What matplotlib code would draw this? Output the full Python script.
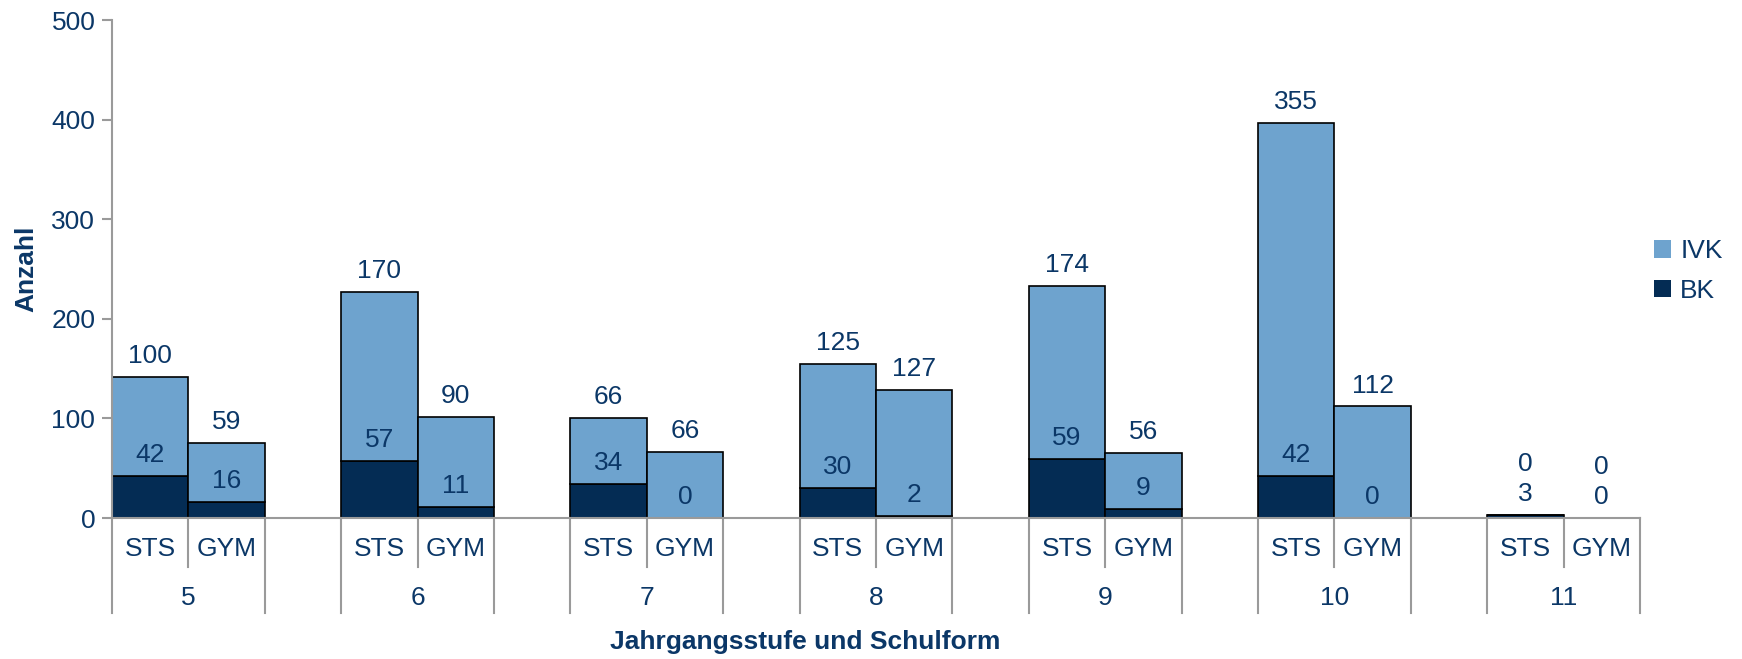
import matplotlib.pyplot as plt
from matplotlib.patches import Patch
import matplotlib.transforms as mtransforms

plt.rcParams['font.family'] = ['Liberation Sans', 'DejaVu Sans']

grades = ['5', '6', '7', '8', '9', '10', '11']
forms = ['STS', 'GYM']
bk = [42, 16, 57, 11, 34, 0, 30, 2, 59, 9, 42, 0, 3, 0]
ivk = [100, 59, 170, 90, 66, 66, 125, 127, 174, 56, 355, 112, 0, 0]

text_col = '#0b3767'
light = '#6ea3ce'
dark = '#042c54'
grid_col = '#9a9a9a'
fs = 19

fig = plt.figure(figsize=(17.42, 6.59), dpi=100)
ax = fig.add_axes([112 / 1742, 1 - 518 / 659, 1528 / 1742, 498 / 659])

xs = []
for g in range(len(grades)):
    for j in range(len(forms)):
        xs.append(3 * g + j)

totals = [b + i for b, i in zip(bk, ivk)]
ax.bar(xs, bk, width=1, align='edge', color=dark, edgecolor='black', linewidth=1.2)
ax.bar(xs, ivk, bottom=bk, width=1, align='edge', color=light, edgecolor='black', linewidth=1.2)

off = 21
for x, b, i, t in zip(xs, bk, ivk, totals):
    yb = b + off
    yi = max(t + off, yb + 30)
    ax.text(x + 0.5, yb, str(b), ha='center', va='center', fontsize=fs, color=text_col)
    ax.text(x + 0.5, yi, str(i), ha='center', va='center', fontsize=fs, color=text_col)

ax.set_xlim(0, 3 * len(grades) - 1)
ax.set_ylim(0, 500)
ax.set_yticks(range(0, 501, 100))
ax.set_xticks([])
ax.tick_params(axis='y', direction='out', length=7, width=1.5, color=grid_col,
               labelsize=fs, labelcolor=text_col, pad=5)
for s in ['top', 'right']:
    ax.spines[s].set_visible(False)
for s in ['left', 'bottom']:
    ax.spines[s].set_color(grid_col)
    ax.spines[s].set_linewidth(1.5)

trans = mtransforms.blended_transform_factory(ax.transData, ax.transAxes)
short_y = -49 / 498
long_y = -95 / 498
for g, grade in enumerate(grades):
    x0 = 3 * g
    ax.plot([x0, x0], [0, long_y], transform=trans, color=grid_col, lw=1.5, clip_on=False)
    ax.plot([x0 + 1, x0 + 1], [0, short_y], transform=trans, color=grid_col, lw=1.5, clip_on=False)
    ax.plot([x0 + 2, x0 + 2], [0, long_y], transform=trans, color=grid_col, lw=1.5, clip_on=False)
    for j, f in enumerate(forms):
        ax.text(x0 + j + 0.5, -31 / 498, f, transform=trans, ha='center', va='center',
                fontsize=fs, color=text_col)
    ax.text(x0 + 1, -80 / 498, grade, transform=trans, ha='center', va='center',
            fontsize=fs, color=text_col)

fig.text(805 / 1742, 1 - 642 / 659, 'Jahrgangsstufe und Schulform',
         ha='center', va='center', fontsize=fs, fontweight='bold', color=text_col)
ax.set_ylabel('Anzahl', fontsize=fs, fontweight='bold', color=text_col, labelpad=9)

handles = [Patch(facecolor=light, label='IVK'), Patch(facecolor=dark, label='BK')]
fig.legend(handles=handles, loc='center left', bbox_to_anchor=(1630 / 1742, 1 - 271 / 659),
           frameon=False, fontsize=fs, labelcolor=text_col, handlelength=0.65,
           handleheight=0.65, handletextpad=0.35, labelspacing=0.6)

fig.savefig('out.png', dpi=100)
